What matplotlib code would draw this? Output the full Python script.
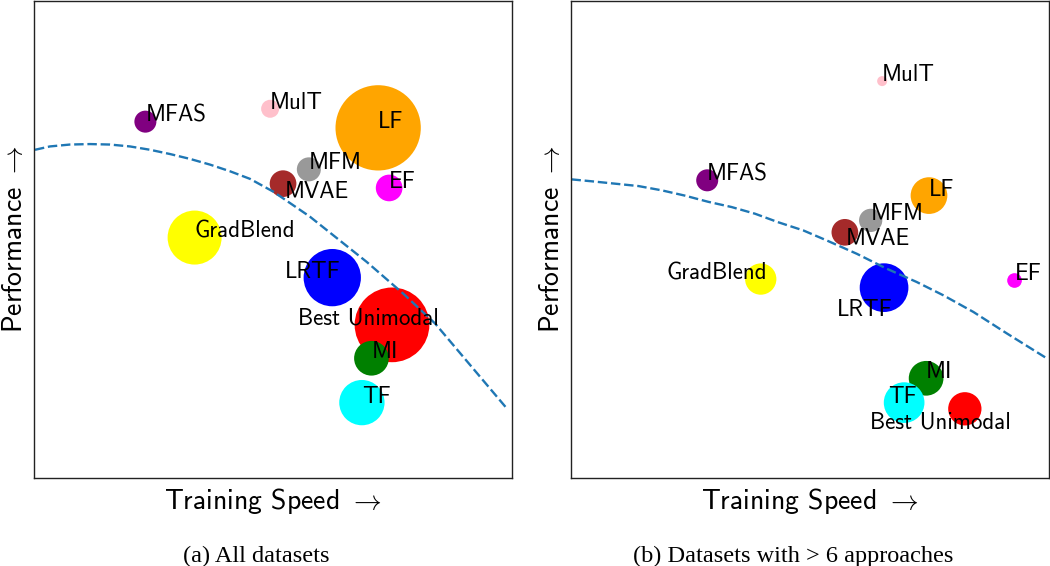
import matplotlib
matplotlib.use('Agg')
import matplotlib.pyplot as plt

plt.rcParams['font.family'] = ['cmss10', 'DejaVu Sans']
plt.rcParams['mathtext.fontset'] = 'cm'
plt.rcParams['axes.unicode_minus'] = False

# same method order in both panels (also the drawing order)
methods = ['Best Unimodal', 'LF', 'EF', 'MFM', 'MVAE', 'GradBlend',
           'LRTF', 'MulT', 'MFAS', 'MI', 'TF']
colors = ['red', 'orange', 'magenta', '#999999', 'brown', 'yellow',
          'blue', 'pink', 'purple', 'green', 'cyan']

# (a) all datasets
speed_all = [0.749, 0.720, 0.743, 0.575, 0.521, 0.336, 0.624, 0.494, 0.233, 0.706, 0.686]
perf_all  = [0.321, 0.734, 0.608, 0.647, 0.617, 0.504, 0.420, 0.774, 0.747, 0.251, 0.158]
size_all  = [2893, 3772, 369, 299, 369, 1512, 1702, 168, 251, 624, 1064]
front_x_all = [0.002, 0.033, 0.075, 0.117, 0.159, 0.201, 0.243, 0.285, 0.326, 0.368,
               0.410, 0.452, 0.501, 0.577, 0.696, 0.773, 0.839, 0.898, 0.989]
front_y_all = [0.688, 0.695, 0.699, 0.700, 0.699, 0.695, 0.688, 0.679, 0.669, 0.657,
               0.643, 0.627, 0.600, 0.548, 0.453, 0.386, 0.324, 0.254, 0.146]

# (b) datasets with > 6 approaches
speed_big = [0.824, 0.749, 0.928, 0.627, 0.573, 0.397, 0.655, 0.651, 0.285, 0.743, 0.697]
perf_big  = [0.145, 0.592, 0.414, 0.540, 0.515, 0.417, 0.399, 0.832, 0.624, 0.209, 0.158]
size_big  = [575, 698, 112, 281, 369, 508, 1229, 52, 251, 624, 858]
front_x_big = [0.001, 0.043, 0.092, 0.141, 0.190, 0.238, 0.287, 0.336, 0.385, 0.434,
               0.486, 0.535, 0.598, 0.660, 0.723, 0.779, 0.842, 0.912, 0.992]
front_y_big = [0.626, 0.622, 0.617, 0.612, 0.603, 0.592, 0.579, 0.568, 0.554, 0.536,
               0.519, 0.498, 0.470, 0.439, 0.411, 0.383, 0.348, 0.303, 0.253]

# label offsets in points, anything not listed sits on the point
offsets_all = {'MVAE': (1, -10), 'LRTF': (-34, 0), 'Best Unimodal': (-68, 0)}
offsets_big = {'MVAE': (1, -9), 'GradBlend': (-68, 0), 'LRTF': (-34, -20.5),
               'TF': (-11.5, 0), 'Best Unimodal': (-68, -14)}


def panel(ax, speed, perf, size, fx, fy, offsets):
    ax.scatter(speed, perf, s=size, c=colors, linewidths=0)
    ax.plot(fx, fy, color='#1f77b4', lw=1.7, ls=(0, (4, 1.6)))
    for name, x, y in zip(methods, speed, perf):
        ax.annotate(name, (x, y), xytext=offsets.get(name, (0, 0)),
                    textcoords='offset points', fontsize=16.5)
    ax.set_xlim(0, 1)
    ax.set_ylim(0, 1)
    ax.set_xticks([])
    ax.set_yticks([])
    for sp in ax.spines.values():
        sp.set_color('#222222')
        sp.set_linewidth(1.0)
    ax.set_xlabel(r'Training Speed $\rightarrow$', fontsize=20, labelpad=6)
    ax.set_ylabel(r'Performance $\rightarrow$', fontsize=20, labelpad=5)


fig = plt.figure(figsize=(10.5, 5.66), dpi=100)
ax1 = fig.add_axes([0.0324, 0.1555, 0.4552, 0.8428])
ax2 = fig.add_axes([0.5438, 0.1555, 0.4552, 0.8428])

panel(ax1, speed_all, perf_all, size_all, front_x_all, front_y_all, offsets_all)
panel(ax2, speed_big, perf_big, size_big, front_x_big, front_y_big, offsets_big)

fig.text(0.2438, 0.007, '(a) All datasets', ha='center', va='baseline',
         family='Liberation Serif', fontsize=17.5)
fig.text(0.7552, 0.007, '(b) Datasets with > 6 approaches', ha='center',
         va='baseline', family='Liberation Serif', fontsize=17.5)

fig.savefig('out.png', dpi=100)
